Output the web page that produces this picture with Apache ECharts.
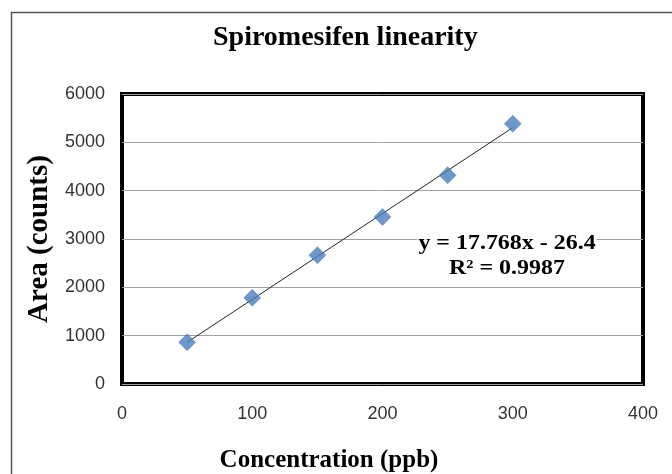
<!DOCTYPE html>
<html>
<head>
<meta charset="utf-8">
<script src="https://cdn.jsdelivr.net/npm/echarts@6/dist/echarts.min.js"></script>
<style>html,body{margin:0;padding:0;background:#fff;}#c{width:672px;height:474px;}</style>
</head>
<body>
<div id="c"></div>
<script>
const concentration = [50, 100, 150, 200, 250, 300];
const area = [862, 1783, 2665, 3457, 4318, 5386];
const trendX = [50, 300];
const trendY = [862, 5304];
const xTicks = [0, 100, 200, 300, 400];
const yTicks = [0, 1000, 2000, 3000, 4000, 5000, 6000];
const titleText = 'Spiromesifen linearity';
const xName = 'Concentration (ppb)';
const yName = 'Area (counts)';
const eqLine1 = 'y = 17.768x - 26.4';
const eqLine2 = 'R\u00b2 = 0.9987';

const chart = echarts.init(document.getElementById('c'), null, {renderer: 'canvas'});
const serif = '"Liberation Serif", "Times New Roman", serif';
const sans = '"Liberation Sans", Arial, sans-serif';
chart.setOption({
  animation: false,
  backgroundColor: '#fff',
  title: {
    text: titleText, left: 208, top: 19,
    textStyle: {fontFamily: serif, fontWeight: 'bold', fontSize: 28, color: '#000'}
  },
  grid: {
    left: 122, right: 29, top: 94, bottom: 90,
    outerBoundsMode: 'none', containLabel: false,
    show: true, borderColor: '#000', borderWidth: 4, backgroundColor: 'transparent'
  },
  xAxis: {
    type: 'value', min: xTicks[0], max: xTicks[xTicks.length - 1], interval: 100,
    axisLine: {show: false}, axisTick: {show: false}, splitLine: {show: false},
    axisLabel: {margin: 21, fontFamily: sans, fontSize: 18, color: '#333', formatter: v => String(v)}
  },
  yAxis: {
    type: 'value', min: yTicks[0], max: yTicks[yTicks.length - 1], interval: 1000,
    name: yName, nameLocation: 'middle', nameGap: 67, nameRotate: 90,
    nameTextStyle: {fontFamily: serif, fontWeight: 'bold', fontSize: 29, color: '#000'},
    axisLine: {show: false}, axisTick: {show: false},
    splitLine: {show: true, lineStyle: {color: '#a0a0a0', width: 1}},
    axisLabel: {margin: 17, fontFamily: sans, fontSize: 18, color: '#333', formatter: v => String(v)}
  },
  series: [
    {
      type: 'line', data: trendX.map((x, i) => [x, trendY[i]]),
      symbol: 'none', lineStyle: {color: '#222', width: 1}, z: 2, silent: true
    },
    {
      type: 'scatter', data: concentration.map((x, i) => [x, area[i]]),
      symbol: 'diamond', symbolSize: [17, 17],
      itemStyle: {color: '#4a7ebb', borderColor: '#3f72ad', borderWidth: 0.5}, z: 3
    }
  ],
  graphic: [
    {type: 'rect', shape: {x: 11.5, y: 12.5, width: 700, height: 500},
     style: {fill: 'none', stroke: '#555', lineWidth: 1.5}, z: 0, silent: true},
    {type: 'text', x: 329, y: 461, z: 10,
     style: {text: xName, align: 'center', verticalAlign: 'middle', fontFamily: serif, fontWeight: 'bold', fontSize: 25, fill: '#000'}},
    {type: 'text', x: 507, y: 244, z: 10, scaleX: 1.14,
     style: {text: eqLine1, align: 'center', verticalAlign: 'middle', fontFamily: serif, fontWeight: 'bold', fontSize: 21, fill: '#000', backgroundColor: '#fff', padding: [0, 1]}},
    {type: 'text', x: 507, y: 269, z: 10, scaleX: 1.14,
     style: {text: eqLine2, align: 'center', verticalAlign: 'middle', fontFamily: serif, fontWeight: 'bold', fontSize: 21, fill: '#000', backgroundColor: '#fff', padding: [0, 1]}}
  ]
});
</script>
</body>
</html>
